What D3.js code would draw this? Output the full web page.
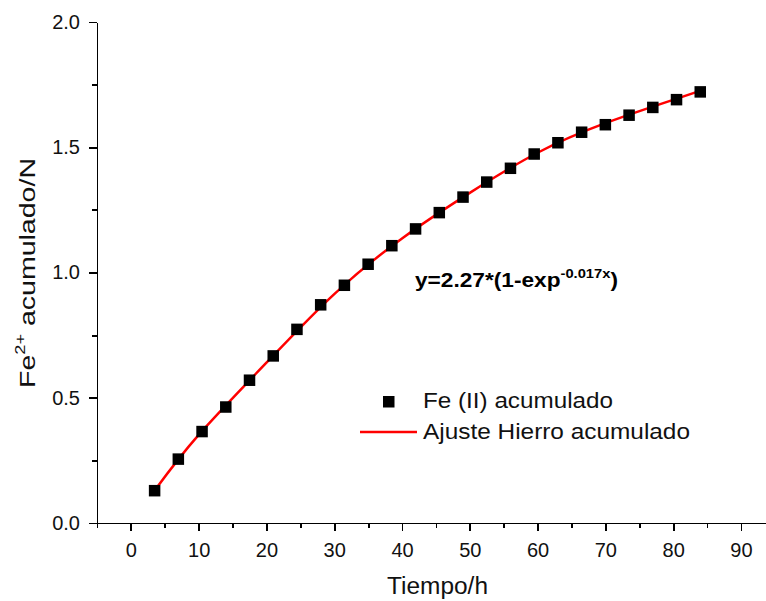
<!DOCTYPE html>
<html>
<head>
  <meta charset="utf-8">
  <title>Fe acumulado</title>
  <script src="https://d3js.org/d3.v7.min.js"></script>
<style type="text/css">
body {
  margin: 0;
  background: #fff;
  font-family: Arial, "Liberation Sans", Helvetica, sans-serif;
}
.axis path, .axis line {
  stroke: #000;
  stroke-width: 1.8px;
  shape-rendering: crispEdges;
}
.axis text {
  font-size: 20px;
  fill: #111;
}
.fit {
  fill: none;
  stroke: #ff0000;
  stroke-width: 2.5px;
}
</style>
</head>
<body>
<svg width="766" height="601"></svg>
<script type="text/javascript">

// time (h) and accumulated Fe(II) (N)
let tiempo = [3.5, 7, 10.5, 14, 17.5, 21, 24.5, 28, 31.5, 35, 38.5, 42,
  45.5, 49, 52.5, 56, 59.5, 63, 66.5, 70, 73.5, 77, 80.5, 84];
let feAcum = [0.129, 0.255, 0.365, 0.463, 0.570, 0.667, 0.773, 0.871, 0.949, 1.033, 1.107, 1.174,
  1.239, 1.301, 1.361, 1.416, 1.473, 1.518, 1.560, 1.590, 1.628, 1.659, 1.690, 1.721];

// fitted curve
let ajusteX = [3.5, 10, 20, 30, 40, 50, 60, 70, 80, 84.3];
let ajusteY = [0.130, 0.352, 0.640, 0.914, 1.136, 1.318, 1.478, 1.596, 1.689, 1.728];

let xTicks = [0, 10, 20, 30, 40, 50, 60, 70, 80, 90];
let yTicks = [0.0, 0.5, 1.0, 1.5, 2.0];

let svg = d3.select('svg');

let x = d3.scaleLinear().domain([-5, 93.7]).range([97, 766]);
let y = d3.scaleLinear().domain([0, 2]).range([523, 22]);

// x axis, majors every 10 and minors every 5
svg.append('g')
  .attr('class', 'axis')
  .attr('transform', 'translate(0,523)')
  .call(d3.axisBottom(x).tickValues(d3.range(-5, 95, 10)).tickSize(5).tickFormat(''));
svg.append('g')
  .attr('class', 'axis')
  .attr('transform', 'translate(0,523)')
  .call(d3.axisBottom(x).tickValues(xTicks).tickSize(8).tickSizeOuter(0).tickPadding(12).tickFormat(d3.format('d')));

svg.append('g')
  .attr('class', 'axis')
  .attr('transform', 'translate(97,0)')
  .call(d3.axisLeft(y).tickValues(d3.range(0.25, 2, 0.5)).tickSize(5).tickSizeOuter(0).tickFormat(''));
svg.append('g')
  .attr('class', 'axis')
  .attr('transform', 'translate(97,0)')
  .call(d3.axisLeft(y).tickValues(yTicks).tickSize(8).tickSizeOuter(0).tickPadding(9).tickFormat(d3.format('.1f')));

// fit line
let line = d3.line()
  .x(d => x(d[0]))
  .y(d => y(d[1]))
  .curve(d3.curveNatural);

svg.append('path')
  .attr('class', 'fit')
  .attr('d', line(d3.zip(ajusteX, ajusteY)));

// data squares
svg.append('g')
  .selectAll('rect')
  .data(d3.zip(tiempo, feAcum))
  .enter()
  .append('rect')
  .attr('x', d => x(d[0]) - 5.75)
  .attr('y', d => y(d[1]) - 5.75)
  .attr('width', 11.5)
  .attr('height', 11.5)
  .attr('fill', '#000');

// equation
let eq = svg.append('text')
  .attr('x', 415)
  .attr('y', 287)
  .attr('font-size', 20)
  .attr('font-weight', 'bold')
  .attr('textLength', 203)
  .attr('lengthAdjust', 'spacingAndGlyphs')
  .attr('fill', '#000');
eq.append('tspan').text('y=2.27*(1-exp');
eq.append('tspan').attr('font-size', 13).attr('dy', -9).text('-0.017x');
eq.append('tspan').attr('dy', 9).text(')');

// legend
svg.append('rect')
  .attr('x', 383).attr('y', 396).attr('width', 11.5).attr('height', 11.5)
  .attr('fill', '#000');
svg.append('text')
  .attr('x', 423).attr('y', 408)
  .attr('font-size', 22).attr('fill', '#111')
  .attr('textLength', 190).attr('lengthAdjust', 'spacingAndGlyphs')
  .text('Fe (II) acumulado');

svg.append('line')
  .attr('x1', 360).attr('x2', 417)
  .attr('y1', 432).attr('y2', 432)
  .attr('stroke', '#ff0000').attr('stroke-width', 2.5);
svg.append('text')
  .attr('x', 423).attr('y', 439)
  .attr('font-size', 22).attr('fill', '#111')
  .attr('textLength', 267).attr('lengthAdjust', 'spacingAndGlyphs')
  .text('Ajuste Hierro acumulado');

// axis titles
svg.append('text')
  .attr('x', 387).attr('y', 594)
  .attr('font-size', 23).attr('fill', '#111')
  .attr('textLength', 101).attr('lengthAdjust', 'spacingAndGlyphs')
  .text('Tiempo/h');

let yTitle = svg.append('text')
  .attr('transform', 'translate(35,388) rotate(-90)')
  .attr('font-size', 22).attr('fill', '#111')
  .attr('textLength', 230).attr('lengthAdjust', 'spacingAndGlyphs');
yTitle.append('tspan').text('Fe');
yTitle.append('tspan').attr('font-size', 14).attr('dy', -10).text('2+');
yTitle.append('tspan').attr('dy', 10).text(' acumulado/N');

</script>
</body>
</html>
